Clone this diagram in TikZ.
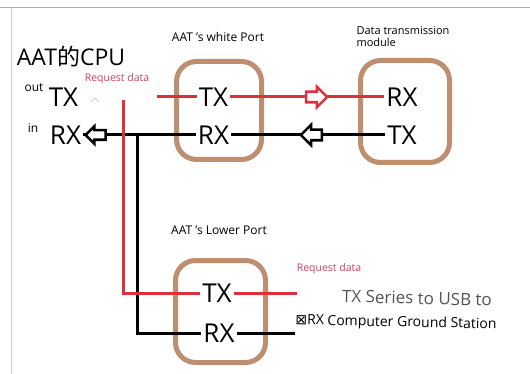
\documentclass[tikz,border=0pt]{standalone}
\usepackage{fontspec}
\setmainfont{Open Sans}
\newfontfamily\cjkfont{Noto Sans CJK SC}
\newfontfamily\symfont{DejaVu Sans}
\usetikzlibrary{shapes.arrows,calc}
\definecolor{portbrown}{RGB}{190,142,112}
\definecolor{sigred}{RGB}{220,48,58}
\definecolor{reqred}{RGB}{200,66,98}
\definecolor{greytext}{RGB}{85,85,85}

\begin{document}
\begin{tikzpicture}[
    x=1pt, y=-1pt,
    port/.style={draw=portbrown, line width=5pt, rounded corners=20pt},
    pin/.style={inner sep=2pt, font=\fontsize{26}{26}\selectfont},
    tag/.style={inner sep=1pt, font=\fontsize{12}{13}\selectfont},
    sig/.style={draw=sigred, line width=3pt},
    gnd/.style={draw=black, line width=3pt},
    portcap/.style={font=\fontsize{12}{13.5}\selectfont, align=left},
    req/.style={text=reqred, font=\fontsize{10.5}{12}\selectfont},
    dirarrow/.style={single arrow, draw, fill=white, line width=2.6pt, minimum height=21pt,
        inner xsep=0pt, inner ysep=4pt, single arrow head extend=5pt},
]
    \useasboundingbox (0,0) rectangle (530,374);
    \fill[white] (0,0) rectangle (530,374);
    \draw[gray!65, line width=1pt] (0,8) -- (530,8);
    \draw[gray!40, line width=1pt] (11,8) -- (11,374);

    % ports
    \node[port, minimum width=85pt, minimum height=98pt] (wport) at (219,110.5) {};
    \node[port, minimum width=89pt, minimum height=102pt] (dport) at (405,111.5) {};
    \node[port, minimum width=90pt, minimum height=102pt] (lport) at (220.5,311.5) {};

    % pins
    \node[font=\fontsize{23}{24}\selectfont] (cpu) at (71,57) {AAT{\cjkfont 的}CPU};
    \node[pin] (cTX) at (63.5,97) {TX};
    \node[pin] (cRX) at (65.5,135) {RX};
    \node[tag] (cout) at (34,88) {out};
    \node[tag] (cin) at (33,128) {in};
    \node[pin] (wTX) at (213.5,97) {TX};
    \node[pin] (wRX) at (213.5,135) {RX};
    \node[pin] (dRX) at (402,97) {RX};
    \node[pin] (dTX) at (402,135) {TX};
    \node[pin] (lTX) at (217,293) {TX};
    \node[pin] (lRX) at (219,333) {RX};

    % labels
    \node[req] (creq) at (117,79) {Request data};
    \draw[gray!40, line width=0.8pt] (91,102) -- (95,98) -- (99,102);
    \node[portcap] (wcap) at (218,37) {AAT 's white Port};
    \node[portcap, anchor=west, font=\fontsize{11}{12}\selectfont] (dcap) at (353,37) {Data transmission\\module};
    \node[portcap] (lcap) at (219,230) {AAT 's Lower Port};
    \node[req] (lreq) at (329,269) {Request data};
    \node[text=greytext, font=\fontsize{17}{18}\selectfont, rotate=-1.5] (usb1) at (417,298) {TX Series to USB to};
    \node[font=\fontsize{14}{15}\selectfont, rotate=-1.2] (usb2) at (396,323) {{\symfont ⊠}RX Computer Ground Station};

    % black lines
    \coordinate (bjoin) at (137,135);
    \coordinate (lrxend) at (295,333);
    \draw[gnd] (dTX.west) -- (wRX.east);
    \draw[gnd] (wRX.west) -- (cRX.east);
    \draw[gnd] (bjoin) |- (lRX.west);
    \draw[gnd] (lRX.east) -- (lrxend);

    % red lines
    \coordinate (wstub) at (157,97);
    \coordinate (rtop) at (123,100);
    \coordinate (ltxend) at (297,293);
    \draw[sig] (wstub) -- (wTX.west);
    \draw[sig] (wTX.east) -- (dRX.west);
    \draw[sig] (rtop) |- (lTX.west);
    \draw[sig] (lTX.east) -- (ltxend);

    % direction arrows
    \node[dirarrow, draw=sigred] (txarrow) at (314,97) {};
    \node[dirarrow, shape border rotate=180] (rxarrow) at (314,135) {};
    \node[dirarrow, shape border rotate=180, minimum height=20pt, inner ysep=3.5pt,
        single arrow head extend=4pt] (cpuarrow) at (98,135) {};
\end{tikzpicture}
\end{document}
